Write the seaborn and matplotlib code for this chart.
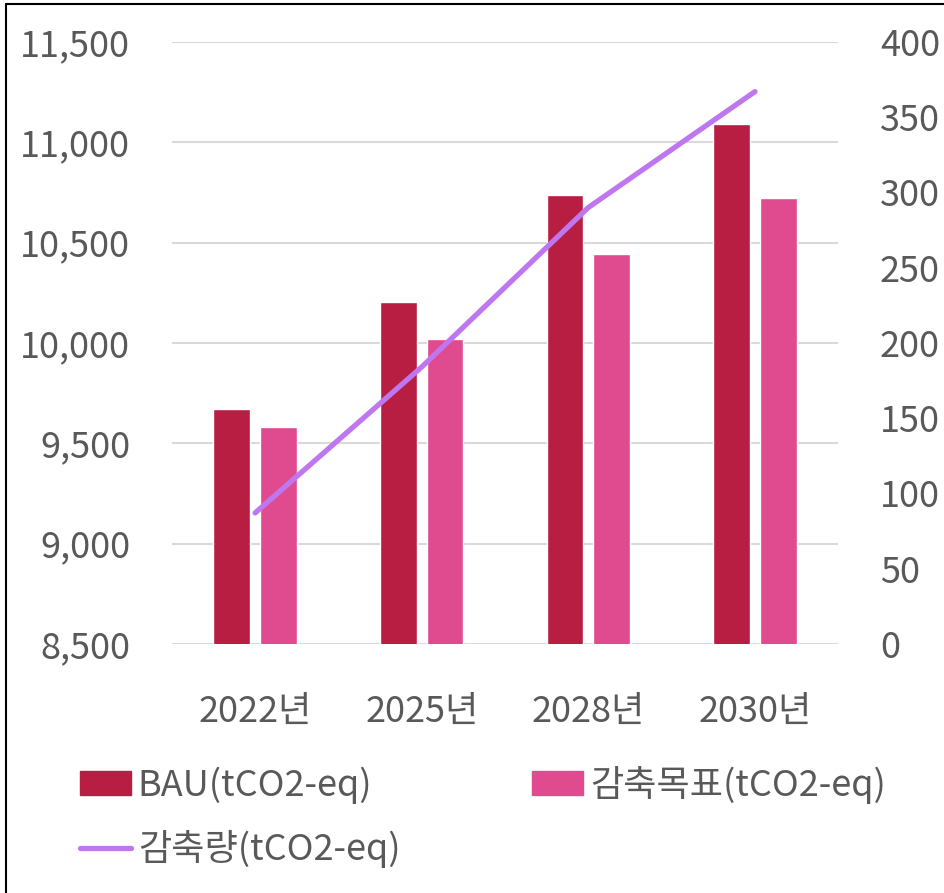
import matplotlib
matplotlib.use('Agg')
import matplotlib.pyplot as plt
from matplotlib.lines import Line2D
import pandas as pd
import seaborn as sns

years = ['2022년', '2025년', '2028년', '2030년']
bau = [9670, 10204, 10735, 11091]
target = [9583, 10020, 10445, 10724]
reduction = [87, 184, 290, 367]

bau_label = 'BAU(tCO2-eq)'
target_label = '감축목표(tCO2-eq)'
red_label = '감축량(tCO2-eq)'

sns.set_style('white')
plt.rcParams['font.family'] = ['Noto Sans CJK KR', 'DejaVu Sans']
text_color = '#595959'
fs = 26

bars = pd.DataFrame({
    'year': years * 2,
    'value': bau + target,
    'series': [bau_label] * 4 + [target_label] * 4,
})
line = pd.DataFrame({'pos': list(range(len(years))), 'value': reduction})

fig = plt.figure(figsize=(9.44, 8.93), dpi=100)
ax = fig.add_axes([0.182, 0.279, 0.706, 0.674])

sns.barplot(data=bars, x='year', y='value', hue='series',
            palette=['#B71E42', '#E04A8E'], width=0.56, gap=0.21,
            saturation=1, ax=ax, legend=False)
ax.set_ylim(8500, 11500)
ax.set_yticks(range(8500, 11501, 500))
ax.set_yticklabels([f'{v:,}' for v in range(8500, 11501, 500)])
ax.set_xlim(-0.5, 3.5)
ax.grid(axis='y', color='#D9D9D9', lw=1.5)
ax.set_axisbelow(True)
ax.set_xlabel('')
ax.set_ylabel('')
ax.tick_params(axis='y', length=0, pad=30, labelsize=fs, labelcolor=text_color)
ax.tick_params(axis='x', length=0, pad=36, labelsize=fs, labelcolor=text_color)
sns.despine(ax=ax, left=True, bottom=True)

ax2 = ax.twinx()
sns.lineplot(data=line, x='pos', y='value', color='#BF77F0', lw=3.8,
             ax=ax2, solid_capstyle='round')
ax2.set_ylim(0, 400)
ax2.set_yticks(range(0, 401, 50))
ax2.set_ylabel('')
ax2.set_xlim(-0.5, 3.5)
ax2.tick_params(axis='y', length=0, pad=30, labelsize=fs, labelcolor=text_color)
for s in ax2.spines.values():
    s.set_visible(False)

handles = [
    plt.Rectangle((0, 0), 1, 1, color='#B71E42'),
    Line2D([0], [0], color='#BF77F0', lw=3.8, solid_capstyle='round'),
    plt.Rectangle((0, 0), 1, 1, color='#E04A8E'),
]
labels = [bau_label, red_label, target_label]
leg = fig.legend(handles, labels, loc='upper left', ncol=2,
                 bbox_to_anchor=(80 / 944, 1 - 766 / 893), frameon=False,
                 fontsize=fs, handlelength=1.4, handleheight=0.65,
                 handletextpad=0.2, columnspacing=3.65, labelspacing=0.72,
                 borderpad=0, borderaxespad=0)
for t in leg.get_texts():
    t.set_color(text_color)

# border on left and top
fig.add_artist(Line2D([6 / 944, 6 / 944], [0, 1 - 4 / 893], color='black', lw=1.5,
                      transform=fig.transFigure))
fig.add_artist(Line2D([6 / 944, 1], [1 - 4 / 893, 1 - 4 / 893], color='black', lw=1.5,
                      transform=fig.transFigure))

fig.savefig('out.png', dpi=100)
